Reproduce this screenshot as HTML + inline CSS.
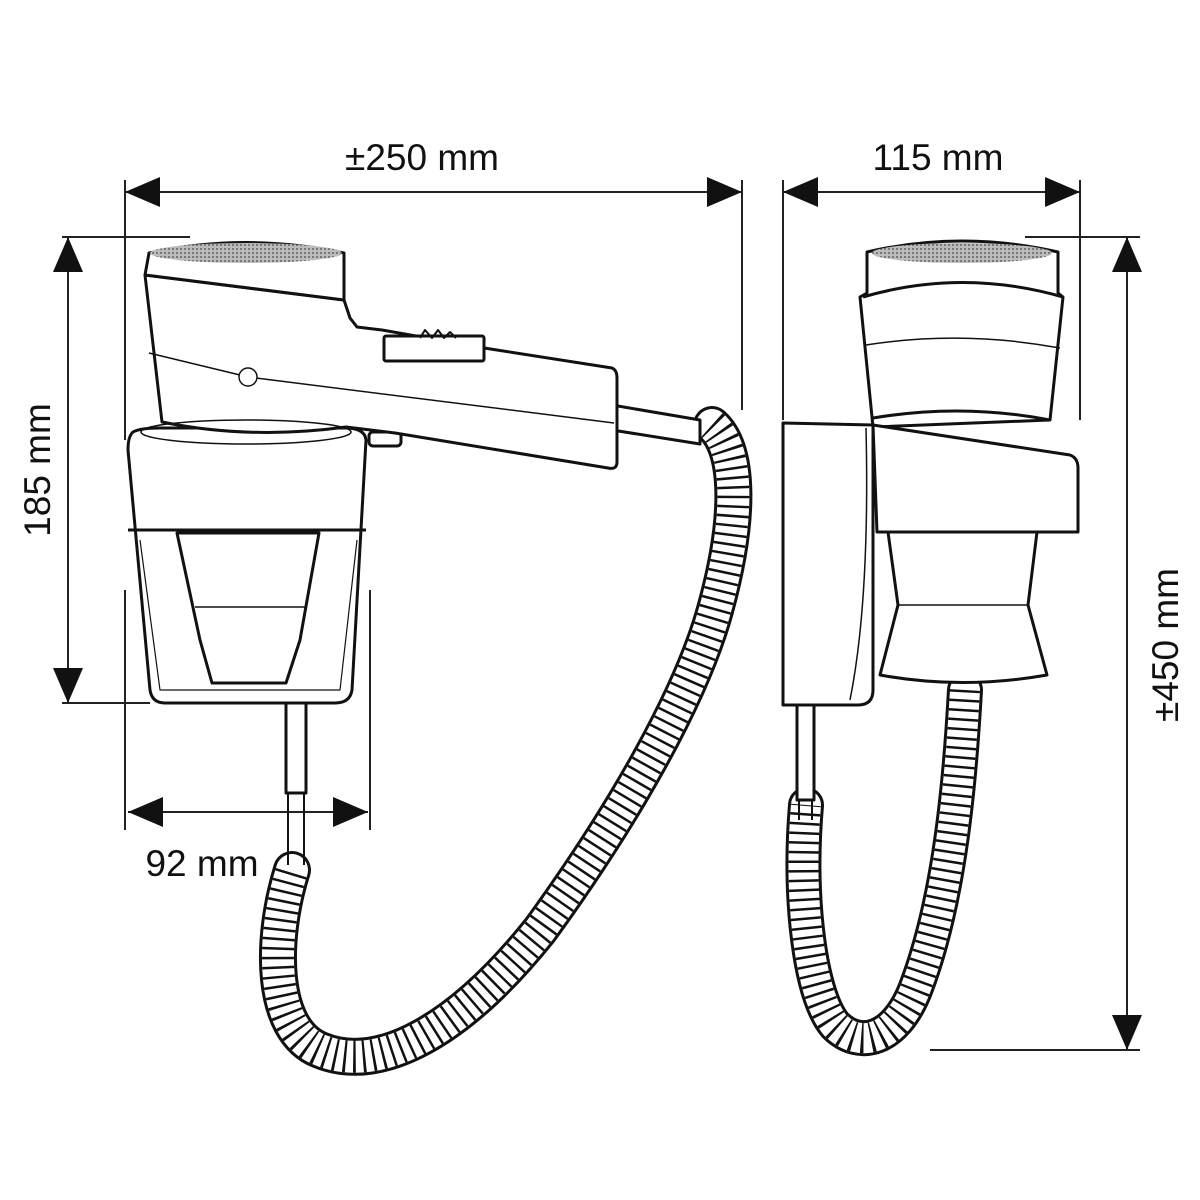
<!DOCTYPE html>
<html><head><style>
html,body{margin:0;padding:0;background:#fff;}
svg{display:block;}
text{font-family:"Liberation Sans",Arial,sans-serif;font-size:37px;fill:#111;}
</style></head><body>
<svg width="1200" height="1200" viewBox="0 0 1200 1200" xmlns="http://www.w3.org/2000/svg">
<defs>
<pattern id="gr" width="4" height="4" patternUnits="userSpaceOnUse"><rect width="4" height="4" fill="#bbb"/><rect width="2" height="2" fill="#777"/></pattern>
</defs>
<g stroke="#222" stroke-width="2" fill="none">
<line x1="125" y1="180" x2="125" y2="440"/><line x1="125" y1="590" x2="125" y2="830"/>
<line x1="742" y1="180" x2="742" y2="410"/>
<line x1="125" y1="192" x2="742" y2="192"/>
<line x1="783" y1="180" x2="783" y2="420"/><line x1="1080" y1="180" x2="1080" y2="420"/>
<line x1="783" y1="192" x2="1080" y2="192"/>
<line x1="62" y1="237" x2="190" y2="237"/><line x1="62" y1="703" x2="150" y2="703"/>
<line x1="68" y1="237" x2="68" y2="703"/>
<line x1="128" y1="812" x2="368" y2="812"/><line x1="370" y1="590" x2="370" y2="830"/>
<line x1="1025" y1="237" x2="1140" y2="237"/><line x1="930" y1="1050" x2="1140" y2="1050"/>
<line x1="1127" y1="237" x2="1127" y2="1050"/>
</g>
<g fill="#111">
<polygon points="125,192 160,177 160,207"/><polygon points="742,192 707,177 707,207"/>
<polygon points="783,192 818,177 818,207"/><polygon points="1080,192 1045,177 1045,207"/>
<polygon points="68,237 53,272 83,272"/><polygon points="68,703 53,668 83,668"/>
<polygon points="128,812 163,797 163,827"/><polygon points="368,812 333,797 333,827"/>
<polygon points="1127,237 1112,272 1142,272"/><polygon points="1127,1050 1112,1015 1142,1015"/>
</g>
<text x="422" y="170" text-anchor="middle">±250 mm</text>
<text x="938" y="170" text-anchor="middle">115 mm</text>
<text x="202" y="876" text-anchor="middle">92 mm</text>
<text transform="translate(50,470) rotate(-90)" text-anchor="middle">185 mm</text>
<text transform="translate(1178,645) rotate(-90)" text-anchor="middle">±450 mm</text>

<g fill="none" stroke-linecap="round">
<path d="M712,425 C740,450 740,520 715,610 C690,700 620,820 540,930 C460,1030 380,1075 320,1050 C270,1030 270,940 292,870" stroke="#111" stroke-width="38"/>
<path d="M712,425 C740,450 740,520 715,610 C690,700 620,820 540,930 C460,1030 380,1075 320,1050 C270,1030 270,940 292,870" stroke="#fff" stroke-width="32"/>
<path d="M712,425 C740,450 740,520 715,610 C690,700 620,820 540,930 C460,1030 380,1075 320,1050 C270,1030 270,940 292,870" stroke="#111" stroke-width="32" stroke-dasharray="2.5 7" stroke-linecap="butt"/>
<path d="M965,690 C960,780 950,900 915,990 C895,1040 860,1050 835,1025 C810,995 798,900 806,805" stroke="#111" stroke-width="36"/>
<path d="M965,690 C960,780 950,900 915,990 C895,1040 860,1050 835,1025 C810,995 798,900 806,805" stroke="#fff" stroke-width="30"/>
<path d="M965,690 C960,780 950,900 915,990 C895,1040 860,1050 835,1025 C810,995 798,900 806,805" stroke="#111" stroke-width="30" stroke-dasharray="2.5 7" stroke-linecap="butt"/>
</g>

<g stroke="#111" stroke-width="3" fill="#fff" stroke-linejoin="round">
<path d="M612,405 L700,420 L700,444 L612,430 Z"/>
<rect x="286" y="703" width="20" height="90"/>
<line x1="288" y1="793" x2="288" y2="865" stroke-width="2"/><line x1="304" y1="793" x2="304" y2="865" stroke-width="2"/>
<path d="M133,432 Q140,428 160,428 L345,428 Q365,428 366,440 L352,690 Q350,703 335,703 L165,703 Q152,703 150,690 L128,450 Q128,436 133,432 Z"/>
<line x1="128" y1="530" x2="366" y2="530"/>
<path d="M140,540 L160,690 L340,690 L357,540" fill="none" stroke-width="1.2"/>
<path d="M177,533 L319,533 L300,640 L286,683 L212,683 L200,640 Z"/>
<line x1="195" y1="607" x2="305" y2="607" stroke-width="1.5"/>
<rect x="369" y="432" width="32" height="14" rx="4"/>
<path d="M145,275 L344,300 L350,318 L357,327 L382,330 L484,348 L612,368 Q617,370 617,378 L617,462 Q617,470 608,468 L395,433 L346,427 Q250,440 162,422 Z"/>
<path d="M149,353 L240,375 M256,378 L614,423" fill="none" stroke-width="1.5"/>
<circle cx="248" cy="377" r="9" stroke-width="1.5"/>
<rect x="384" y="336" width="100" height="25" rx="2"/>
<path d="M420,338 L425,330 L432,338 L438,330 L444,338 L450,332 L456,338" fill="none" stroke-width="2"/>
<ellipse cx="246" cy="432" rx="105" ry="12" fill="none" stroke-width="1.5"/>
<path d="M149,253 Q246,232 344,253 L344,300 L145,275 Z"/>
<ellipse cx="246" cy="253" rx="96" ry="10" fill="url(#gr)" stroke="none"/>

<rect x="797" y="705" width="17" height="95"/>
<line x1="799" y1="800" x2="799" y2="820" stroke-width="2"/><line x1="812" y1="800" x2="812" y2="820" stroke-width="2"/>
<path d="M867,252 Q962,230 1058,252 L1058,293 L1063,297 L1050,420 L873,427 L860,297 L867,293 Z"/>
<ellipse cx="962" cy="253" rx="90" ry="10" fill="url(#gr)" stroke="none"/>
<path d="M863,297 Q962,268 1063,297" fill="none"/>
<path d="M866,345 Q962,330 1060,348" fill="none" stroke-width="1.5"/>
<path d="M873,418 Q962,403 1050,420" fill="none"/>
<path d="M888,532 L1037,532 L1028,605 L1047,675 Q962,690 880,675 L898,605 Z"/>
<line x1="898" y1="605" x2="1028" y2="605" stroke-width="1.5"/>
<path d="M783,423 L873,425 L873,690 Q873,705 858,705 L783,705 Z"/>
<path d="M866,428 Q870,600 850,700" fill="none" stroke-width="1.5"/>
<path d="M873,425 L1070,455 Q1078,458 1078,468 L1078,532 L877,532 Z"/>
</g>
</svg>
</body></html>
